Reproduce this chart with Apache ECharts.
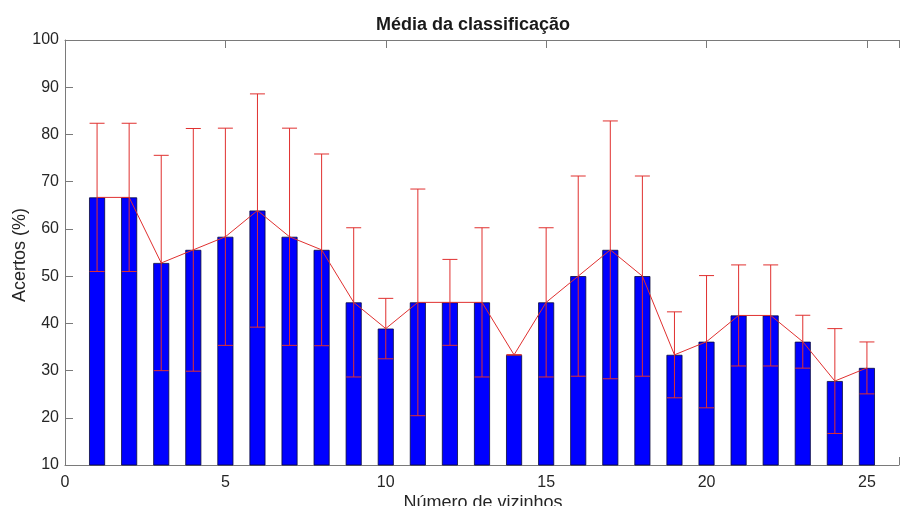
<!DOCTYPE html>
<html>
<head>
<meta charset="utf-8">
<title>Média da classificação</title>
<script src="https://cdn.jsdelivr.net/npm/echarts@6/dist/echarts.min.js"></script>
<style>
  html, body { margin: 0; padding: 0; background: #fff; }
  #chart { width: 902px; height: 506px; }
</style>
</head>
<body>
<div id="chart"></div>
<script>
// Número de vizinhos (k)
const vizinhos = [1, 2, 3, 4, 5, 6, 7, 8, 9, 10, 11, 12, 13, 14, 15, 16, 17, 18, 19, 20, 21, 22, 23, 24, 25];
// Média de acertos (%)
const media = [66.67, 66.67, 52.78, 55.56, 58.33, 63.89, 58.33, 55.56, 44.44, 38.89,
               44.44, 44.44, 44.44, 33.33, 44.44, 50.00, 55.56, 50.00, 33.33, 36.11,
               41.67, 41.67, 36.11, 27.78, 30.56];
// Desvio padrão (%)
const desvio = [15.7, 15.7, 22.8, 25.7, 23.0, 24.7, 23.0, 20.3, 15.8, 6.4,
                24.0, 9.1, 15.8, 0.0, 15.8, 21.2, 27.3, 21.2, 9.1, 14.0,
                10.7, 10.7, 5.6, 11.1, 5.5];
// Marcas dos eixos
const ticksX = [0, 5, 10, 15, 20, 25];
const ticksY = [10, 20, 30, 40, 50, 60, 70, 80, 90, 100];

const textColor = '#262626';
const axisColor = '#7a7a7a';
const red = '#e0302f';
const fontFamily = '"Liberation Sans", Arial, Helvetica, sans-serif';

const barData = vizinhos.map((k, i) => [k, media[i]]);
const lineData = vizinhos.map((k, i) => [k, media[i]]);
const errData = vizinhos.map((k, i) => [k, media[i] - desvio[i], media[i] + desvio[i]]);

const chart = echarts.init(document.getElementById('chart'), null, { renderer: 'canvas' });

const baseX = {
  type: 'value',
  min: 0,
  max: 26,
  interval: 5,
  splitLine: { show: false },
  axisLine: { show: true, lineStyle: { color: axisColor, width: 1 } },
  axisTick: { show: true, inside: true, length: 8, lineStyle: { color: axisColor } }
};

chart.setOption({
  animation: false,
  backgroundColor: '#ffffff',
  grid: { left: 65, top: 40, width: 848, height: 425, containLabel: false },
  xAxis: [
    Object.assign({}, baseX, {
      position: 'bottom',
      axisLabel: {
        show: true, margin: 10, color: textColor, fontSize: 16, fontFamily: fontFamily,
        formatter: v => (ticksX.includes(v) ? String(v) : '')
      }
    }),
    Object.assign({}, baseX, {
      position: 'top',
      axisLabel: { show: false }
    })
  ],
  yAxis: [{
    type: 'value',
    min: 10,
    max: 100,
    interval: 10,
    splitLine: { show: false },
    axisLine: { show: true, lineStyle: { color: axisColor, width: 1 } },
    axisTick: { show: true, inside: true, length: 8, lineStyle: { color: axisColor } },
    axisLabel: {
      margin: 6, color: textColor, fontSize: 16, fontFamily: fontFamily,
      formatter: v => (ticksY.includes(v) ? String(v) : '')
    }
  }],
  series: [
    {
      type: 'bar',
      xAxisIndex: 0,
      yAxisIndex: 0,
      data: barData,
      barWidth: 16,
      itemStyle: { color: '#0000ff', borderColor: '#0a0a3a', borderWidth: 0.8 },
      clip: true,
      z: 2
    },
    {
      type: 'line',
      xAxisIndex: 0,
      yAxisIndex: 0,
      data: lineData,
      showSymbol: false,
      symbol: 'none',
      lineStyle: { color: red, width: 1 },
      z: 3
    },
    {
      type: 'custom',
      xAxisIndex: 0,
      yAxisIndex: 0,
      data: errData,
      z: 4,
      renderItem: function (params, api) {
        const x = api.value(0);
        const lo = api.coord([x, api.value(1)]);
        const hi = api.coord([x, api.value(2)]);
        const half = 7.5;
        const style = { stroke: red, lineWidth: 1, fill: null };
        return {
          type: 'group',
          children: [
            { type: 'line', shape: { x1: hi[0], y1: hi[1], x2: lo[0], y2: lo[1] }, style: style },
            { type: 'line', shape: { x1: hi[0] - half, y1: hi[1], x2: hi[0] + half, y2: hi[1] }, style: style },
            { type: 'line', shape: { x1: lo[0] - half, y1: lo[1], x2: lo[0] + half, y2: lo[1] }, style: style }
          ]
        };
      }
    }
  ],
  graphic: [
    {
      type: 'text', x: 473, y: 25,
      style: {
        text: 'Média da classificação', fill: '#1a1a1a',
        font: 'bold 18px ' + fontFamily, align: 'center', verticalAlign: 'middle'
      }
    },
    {
      type: 'text', x: 483, y: 503,
      style: {
        text: 'Número de vizinhos', fill: textColor,
        font: '18px ' + fontFamily, align: 'center', verticalAlign: 'middle'
      }
    },
    {
      type: 'text', x: 20, y: 255, rotation: Math.PI / 2,
      style: {
        text: 'Acertos (%)', fill: textColor,
        font: '18px ' + fontFamily, align: 'center', verticalAlign: 'middle'
      }
    }
  ]
});
</script>
</body>
</html>
